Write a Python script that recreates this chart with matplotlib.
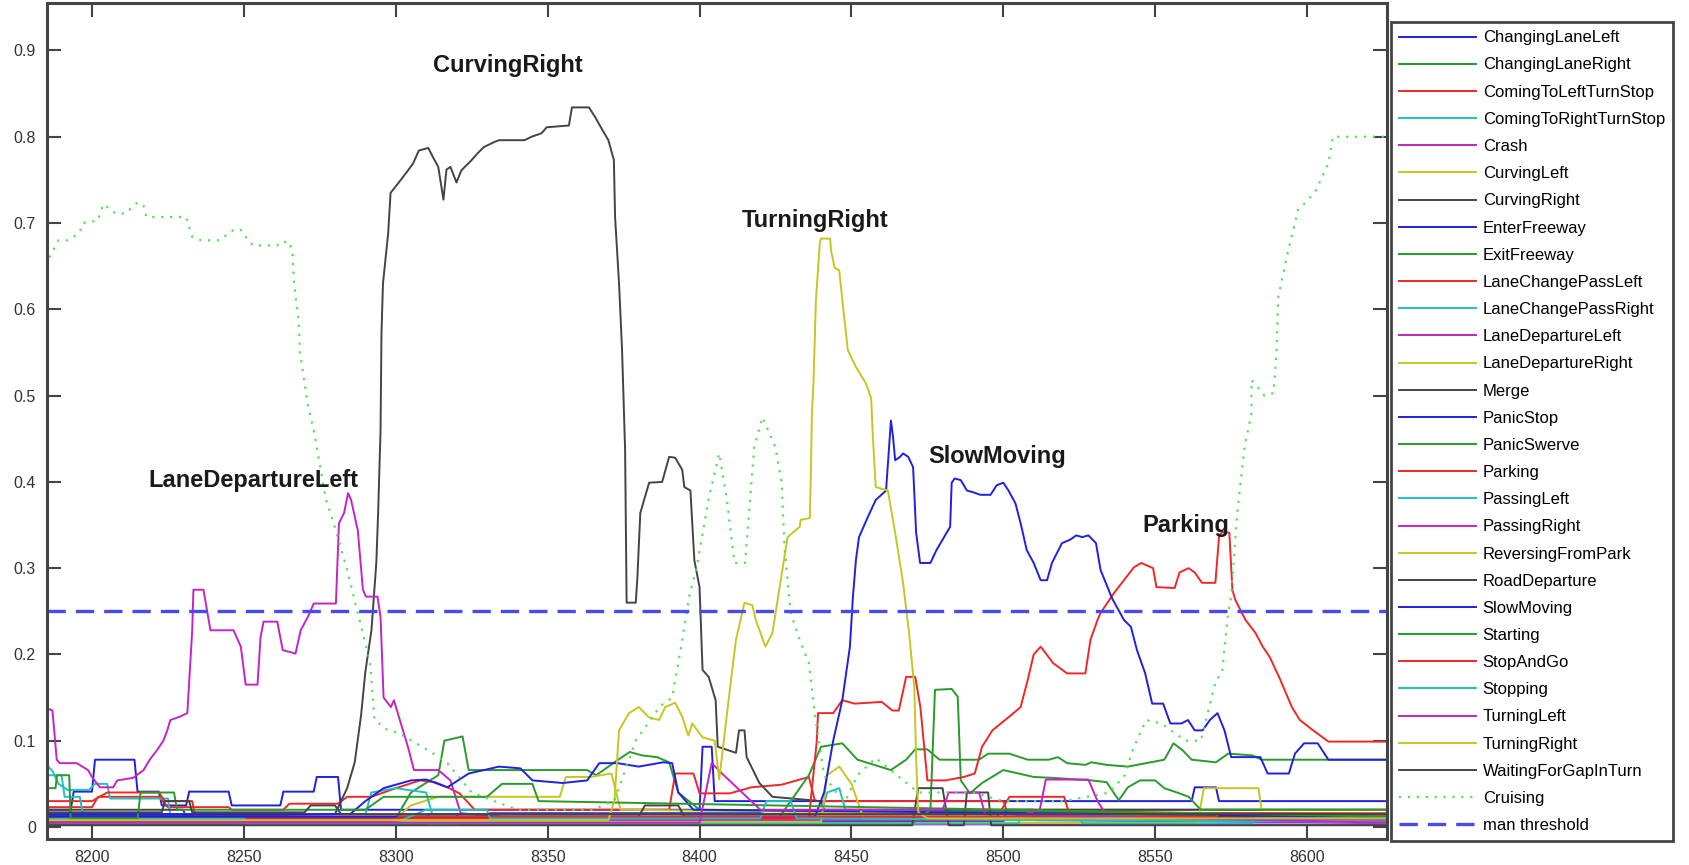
import matplotlib
matplotlib.use("Agg")
import matplotlib.pyplot as plt

plt.rcParams['font.family'] = ['Liberation Sans', 'DejaVu Sans']

# behaviour likelihoods as (frame, value) breakpoints
changing_lane_left = [(8185, 0.02), (8193, 0.02), (8194, 0.041), (8200, 0.041), (8201, 0.078), (8214, 0.078),
                      (8215, 0.041), (8222, 0.041), (8223, 0.025), (8231, 0.025), (8232, 0.041), (8245, 0.041),
                      (8246, 0.025), (8262, 0.025), (8263, 0.041), (8273, 0.041), (8274, 0.058), (8281, 0.058),
                      (8282, 0.02), (8400, 0.02), (8401, 0.093), (8404, 0.093), (8405, 0.03), (8562, 0.03),
                      (8563, 0.046), (8570, 0.046), (8571, 0.03), (8626, 0.03)]
changing_lane_right = [(8185, 0.01), (8300, 0.01), (8305, 0.04), (8314, 0.06), (8316, 0.10), (8322, 0.105),
                       (8324, 0.066), (8363, 0.066), (8366, 0.06), (8372, 0.075), (8377, 0.087), (8381, 0.083),
                       (8386, 0.081), (8390, 0.075), (8393, 0.04), (8400, 0.02), (8626, 0.015)]
coming_left_turn_stop = [(8185, 0.023), (8200, 0.023), (8202, 0.035), (8222, 0.035), (8225, 0.023), (8245, 0.023),
                         (8246, 0.02), (8263, 0.02), (8265, 0.027), (8281, 0.027), (8284, 0.035), (8292, 0.035),
                         (8300, 0.045), (8308, 0.054), (8313, 0.052), (8317, 0.046), (8321, 0.039), (8326, 0.02),
                         (8390, 0.02), (8392, 0.062), (8398, 0.062), (8400, 0.039), (8410, 0.039), (8417, 0.046),
                         (8427, 0.049), (8432, 0.054), (8436, 0.058), (8438, 0.03), (8500, 0.03), (8501, 0.02),
                         (8626, 0.02)]
coming_right_turn_stop = [(8185, 0.072), (8187, 0.065), (8189, 0.05), (8192, 0.043), (8199, 0.043), (8201, 0.05),
                          (8205, 0.05), (8206, 0.033), (8225, 0.033), (8226, 0.008), (8626, 0.008)]
crash = [(8185, 0.003), (8310, 0.003), (8311, 0.015), (8320, 0.015), (8321, 0.003), (8626, 0.003)]
curving_left = [(8185, 0.01), (8300, 0.01), (8305, 0.025), (8314, 0.035), (8354, 0.035), (8356, 0.058),
                (8364, 0.058), (8371, 0.062), (8374, 0.02), (8626, 0.01)]
curving_right = [(8185, 0.02), (8230, 0.02), (8231, 0.012), (8280, 0.015), (8284, 0.045), (8286.5, 0.075),
                 (8288.6, 0.13), (8290, 0.18), (8292, 0.228), (8293.6, 0.306), (8294.2, 0.364), (8295, 0.46),
                 (8295.3, 0.572), (8295.8, 0.63), (8297.5, 0.688), (8298.3, 0.735), (8301, 0.747),
                 (8303.4, 0.758), (8305.7, 0.769), (8307.6, 0.784), (8310.7, 0.787), (8312.3, 0.776),
                 (8314, 0.765), (8315.7, 0.727), (8316.7, 0.762), (8318, 0.765), (8320, 0.747), (8321.6, 0.761),
                 (8325, 0.773), (8327, 0.781), (8329, 0.788), (8332.5, 0.794), (8334, 0.796), (8342.4, 0.796),
                 (8344.7, 0.80), (8348, 0.804), (8349.7, 0.811), (8357, 0.813), (8358, 0.834), (8363.6, 0.834),
                 (8365.6, 0.823), (8368, 0.808), (8370, 0.796), (8371.8, 0.773), (8372.2, 0.707),
                 (8373.5, 0.63), (8374.5, 0.553), (8375.5, 0.437), (8376, 0.26), (8379, 0.26), (8379.5, 0.286),
                 (8380.5, 0.364), (8383.4, 0.399), (8387.7, 0.40), (8390, 0.429), (8392, 0.428),
                 (8394.3, 0.414), (8395, 0.394), (8397, 0.39), (8398.3, 0.309), (8400, 0.278), (8401, 0.182),
                 (8403, 0.174), (8405.3, 0.147), (8406, 0.093), (8412, 0.086), (8413, 0.112), (8414.8, 0.112),
                 (8415.5, 0.081), (8419.7, 0.051), (8424, 0.035), (8440, 0.03), (8441, 0.02), (8626, 0.02)]
enter_freeway = [(8185, 0.014), (8240, 0.014), (8241, 0.008), (8330, 0.008), (8331, 0.016), (8420, 0.016),
                 (8421, 0.006), (8500, 0.006), (8501, 0.02), (8510, 0.02), (8511, 0.008), (8626, 0.005)]
exit_freeway = [(8185, 0.005), (8425, 0.005), (8430, 0.03), (8436, 0.06), (8440, 0.093), (8447, 0.097),
                (8452, 0.078), (8463, 0.066), (8468, 0.078), (8471, 0.09), (8475, 0.09), (8479, 0.078),
                (8492, 0.078), (8495, 0.085), (8502, 0.085), (8508, 0.078), (8515, 0.078), (8518, 0.081),
                (8521, 0.074), (8527, 0.072), (8529, 0.075), (8534, 0.072), (8541, 0.07), (8553, 0.078),
                (8556, 0.097), (8559, 0.089), (8562, 0.078), (8570, 0.075), (8574, 0.085), (8582, 0.083),
                (8585, 0.078), (8626, 0.078)]
lane_change_pass_left = [(8185, 0.03), (8200, 0.03), (8205, 0.04), (8222, 0.04), (8224, 0.03), (8233, 0.03),
                         (8234, 0.012), (8498, 0.012), (8502, 0.035), (8520, 0.035), (8522, 0.012), (8626, 0.012)]
lane_change_pass_right = [(8185, 0.06), (8190, 0.06), (8191, 0.035), (8196, 0.035), (8197, 0.015), (8290, 0.015),
                          (8292, 0.04), (8300, 0.045), (8310, 0.04), (8312, 0.015), (8440, 0.015), (8442, 0.04),
                          (8446, 0.045), (8448, 0.02), (8626, 0.005)]
lane_departure_left = [(8185, 0.138), (8187, 0.135), (8188.4, 0.078), (8189.4, 0.074), (8195, 0.074),
                       (8198.7, 0.066), (8200, 0.058), (8202.6, 0.046), (8207, 0.046), (8208.3, 0.054),
                       (8213.6, 0.057), (8217, 0.066), (8219, 0.078), (8221.4, 0.089), (8223.5, 0.10),
                       (8224.8, 0.112), (8225.8, 0.124), (8229, 0.128), (8231.4, 0.132), (8233, 0.228),
                       (8233.4, 0.275), (8236.7, 0.275), (8239, 0.228), (8246.6, 0.228), (8249, 0.209),
                       (8250.6, 0.165), (8254.5, 0.165), (8255.5, 0.22), (8256.5, 0.238), (8261, 0.238),
                       (8262.8, 0.205), (8267, 0.201), (8268.7, 0.228), (8271, 0.243), (8273, 0.259),
                       (8280.3, 0.259), (8281.3, 0.352), (8283, 0.364), (8284.3, 0.387), (8285.3, 0.379),
                       (8287.5, 0.344), (8289.2, 0.275), (8290.2, 0.267), (8294, 0.267), (8295, 0.243),
                       (8296, 0.15), (8298.4, 0.139), (8299.4, 0.147), (8301, 0.128), (8304, 0.093),
                       (8306, 0.066), (8314, 0.066), (8318, 0.054), (8321.4, 0.016), (8340, 0.01), (8626, 0.01)]
lane_departure_right = [(8185, 0.005), (8564, 0.005), (8566, 0.045), (8584, 0.045), (8585, 0.02), (8626, 0.02)]
merge = [(8185, 0.012), (8380, 0.012), (8382, 0.025), (8393, 0.025), (8395, 0.012), (8626, 0.012)]
panic_stop = [(8185, 0.015), (8285, 0.015), (8290, 0.03), (8296, 0.045), (8305, 0.054), (8310, 0.055),
              (8317, 0.046), (8324, 0.062), (8334, 0.07), (8341, 0.068), (8345, 0.054), (8355, 0.051),
              (8363, 0.054), (8367, 0.074), (8373, 0.074), (8380, 0.07), (8388, 0.075), (8391, 0.074),
              (8393, 0.04), (8398, 0.02), (8626, 0.012)]
panic_swerve = [(8185, 0.004), (8470, 0.004), (8476, 0.02), (8477.5, 0.159), (8483, 0.16), (8485, 0.151),
                (8486, 0.054), (8489, 0.039), (8493, 0.051), (8500, 0.066), (8505, 0.062), (8510, 0.058),
                (8516, 0.057), (8529, 0.054), (8534, 0.052), (8538, 0.031), (8541, 0.046), (8545, 0.054),
                (8550, 0.054), (8553, 0.045), (8558, 0.039), (8561, 0.035), (8565, 0.02), (8626, 0.02)]
parking = [(8185, 0.01), (8436, 0.01), (8438.6, 0.10), (8439, 0.132), (8444, 0.132), (8447, 0.147),
           (8451, 0.143), (8460, 0.145), (8463.5, 0.135), (8465.6, 0.135), (8468, 0.174), (8471, 0.174),
           (8472.7, 0.139), (8475, 0.054), (8481, 0.054), (8487, 0.058), (8490.6, 0.062), (8493, 0.093),
           (8496.4, 0.112), (8502, 0.128), (8505.7, 0.139), (8508, 0.17), (8510, 0.20), (8512.3, 0.209),
           (8516.4, 0.19), (8521, 0.178), (8527, 0.178), (8528.7, 0.217), (8531, 0.24), (8532, 0.248),
           (8536.4, 0.271), (8539.7, 0.286), (8543, 0.301), (8545.4, 0.306), (8549.3, 0.30), (8550.4, 0.278),
           (8556.4, 0.277), (8558, 0.295), (8561, 0.30), (8563, 0.295), (8565.4, 0.283), (8569.8, 0.283),
           (8571, 0.336), (8572, 0.342), (8574.4, 0.341), (8575.4, 0.275), (8576.4, 0.263), (8579.7, 0.24),
           (8583, 0.225), (8585.4, 0.209), (8587.7, 0.197), (8591, 0.172), (8595, 0.139), (8597.6, 0.124),
           (8602, 0.112), (8607, 0.099), (8626, 0.099)]
passing_left = [(8185, 0.01), (8250, 0.01), (8251, 0.004), (8505, 0.004), (8506, 0.015), (8525, 0.015),
                (8526, 0.004), (8582, 0.004), (8583, 0.01), (8626, 0.01)]
passing_right = [(8185, 0.008), (8500, 0.008), (8512, 0.02), (8514, 0.055), (8528, 0.055), (8531, 0.03),
                 (8535, 0.008), (8626, 0.008)]
reversing_from_park = [(8185, 0.006), (8440, 0.006), (8442, 0.06), (8446, 0.07), (8450, 0.05), (8454, 0.01),
                       (8626, 0.006)]
road_departure = [(8185, 0.002), (8470, 0.002), (8472, 0.045), (8480, 0.045), (8482, 0.002), (8487, 0.002),
                  (8488, 0.04), (8495, 0.04), (8496, 0.002), (8626, 0.002)]
slow_moving = [(8185, 0.012), (8438, 0.012), (8441, 0.04), (8444, 0.10), (8447, 0.147), (8449.5, 0.209),
               (8450.5, 0.267), (8451.5, 0.31), (8452.5, 0.336), (8455.5, 0.36), (8458, 0.379), (8461.4, 0.39),
               (8463, 0.471), (8463.7, 0.452), (8464.4, 0.425), (8466, 0.429), (8467, 0.433), (8468.7, 0.429),
               (8470.3, 0.417), (8471.3, 0.341), (8472.6, 0.306), (8476, 0.306), (8478, 0.321), (8480, 0.333),
               (8482.5, 0.348), (8483, 0.399), (8484, 0.404), (8486, 0.402), (8488, 0.39), (8490, 0.388),
               (8492.5, 0.385), (8495.8, 0.385), (8497.8, 0.396), (8500, 0.399), (8501.7, 0.39), (8504, 0.375),
               (8505.7, 0.352), (8507.7, 0.321), (8510, 0.306), (8512.3, 0.286), (8514.4, 0.286), (8516, 0.306),
               (8519.3, 0.329), (8522, 0.333), (8524, 0.338), (8526, 0.336), (8528, 0.338), (8530.5, 0.329),
               (8532, 0.298), (8535.8, 0.265), (8539.7, 0.24), (8542, 0.232), (8544, 0.205), (8546.7, 0.178),
               (8549, 0.143), (8552.6, 0.143), (8555, 0.12), (8558.6, 0.12), (8560.8, 0.124), (8563, 0.112),
               (8565.6, 0.112), (8568, 0.124), (8570.5, 0.132), (8572.8, 0.112), (8575, 0.081), (8584.6, 0.081),
               (8587, 0.062), (8594, 0.062), (8596, 0.085), (8599, 0.097), (8603.5, 0.097), (8607, 0.078),
               (8626, 0.078)]
starting = [(8185, 0.045), (8188, 0.045), (8188.5, 0.06), (8192.5, 0.06), (8193, 0.01), (8215, 0.01),
            (8216, 0.04), (8227, 0.04), (8228, 0.02), (8290, 0.02), (8296, 0.035), (8330, 0.035), (8335, 0.05),
            (8345, 0.05), (8347, 0.03), (8626, 0.012)]
stop_and_go = [(8185, 0.006), (8300, 0.006), (8301, 0.012), (8570, 0.012), (8571, 0.016), (8626, 0.016)]
stopping = [(8185, 0.005), (8300, 0.005), (8310, 0.02), (8330, 0.02), (8331, 0.01), (8420, 0.01), (8422, 0.03),
            (8430, 0.03), (8432, 0.01), (8626, 0.006)]
turning_left = [(8185, 0.005), (8400, 0.005), (8404, 0.074), (8408, 0.06), (8414, 0.04), (8420, 0.02),
                (8480, 0.02), (8482, 0.04), (8492, 0.04), (8494, 0.015), (8626, 0.005)]
turning_right = [(8185, 0.008), (8370, 0.008), (8372, 0.031), (8373.5, 0.112), (8376.8, 0.132), (8380, 0.139),
                 (8383.4, 0.127), (8386.7, 0.124), (8388.7, 0.139), (8392, 0.144), (8394.3, 0.128),
                 (8396.3, 0.106), (8397.6, 0.12), (8401, 0.104), (8405, 0.10), (8406.5, 0.055), (8408, 0.10),
                 (8410, 0.16), (8412, 0.217), (8414.8, 0.26), (8417.4, 0.257), (8418.5, 0.24), (8421.7, 0.209),
                 (8424, 0.225), (8427.4, 0.301), (8429, 0.336), (8433, 0.348), (8433.3, 0.356), (8436.3, 0.358),
                 (8436.6, 0.402), (8437, 0.48), (8437.5, 0.514), (8438.3, 0.61), (8439.6, 0.677), (8440, 0.682),
                 (8443, 0.682), (8443.3, 0.668), (8444.5, 0.648), (8446, 0.645), (8447, 0.611), (8448.8, 0.553),
                 (8451.5, 0.533), (8454.8, 0.514), (8456.5, 0.497), (8457, 0.457), (8458, 0.394), (8462, 0.39),
                 (8464.4, 0.341), (8467, 0.283), (8469, 0.224), (8470.7, 0.162), (8471.3, 0.079), (8472, 0.017),
                 (8475, 0.01), (8626, 0.01)]
waiting_for_gap = [(8185, 0.017), (8223, 0.017), (8224, 0.03), (8232, 0.03), (8233, 0.017), (8270, 0.017),
                   (8272, 0.025), (8280, 0.025), (8282, 0.015), (8626, 0.015)]
cruising = [(8186, 0.66), (8189, 0.68), (8192, 0.68), (8194, 0.684), (8196, 0.69), (8197, 0.70), (8202, 0.703),
            (8203, 0.715), (8204, 0.722), (8206, 0.715), (8208, 0.711), (8211, 0.711), (8215, 0.724),
            (8217, 0.72), (8218, 0.707), (8231, 0.707), (8232, 0.695), (8233, 0.684), (8236, 0.68), (8242, 0.68),
            (8245, 0.688), (8247, 0.693), (8249, 0.692), (8251, 0.682), (8253, 0.674), (8261, 0.674),
            (8262, 0.678), (8265, 0.678), (8266, 0.665), (8266.5, 0.63), (8268, 0.588), (8268.5, 0.549),
            (8270, 0.514), (8271, 0.491), (8273, 0.46), (8277, 0.38), (8279.6, 0.352), (8284, 0.298),
            (8291.6, 0.19), (8293, 0.124), (8297.5, 0.112), (8301, 0.109), (8312, 0.086), (8317, 0.074),
            (8325, 0.04), (8340, 0.02), (8365, 0.02), (8372, 0.031), (8379, 0.10), (8387, 0.14), (8391, 0.15),
            (8394, 0.21), (8396.6, 0.267), (8399, 0.30), (8403, 0.38), (8406.5, 0.433), (8409, 0.38),
            (8411.5, 0.306), (8415, 0.306), (8418, 0.44), (8420.7, 0.475), (8425, 0.44), (8427, 0.40),
            (8428, 0.324), (8430, 0.248), (8433, 0.217), (8436, 0.19), (8438, 0.13), (8441, 0.06), (8445, 0.04),
            (8448, 0.03), (8452, 0.06), (8458, 0.08), (8465, 0.06), (8472, 0.04), (8490, 0.04), (8500, 0.03),
            (8520, 0.03), (8535, 0.04), (8540, 0.06), (8543, 0.093), (8547, 0.124), (8552, 0.12), (8560, 0.10),
            (8565, 0.10), (8570, 0.17), (8572, 0.178), (8574, 0.248), (8575, 0.267), (8577, 0.364),
            (8579.4, 0.44), (8581.7, 0.48), (8581.7, 0.518), (8586, 0.50), (8589, 0.503), (8590, 0.556),
            (8590.5, 0.614), (8593.6, 0.665), (8597, 0.715), (8602.5, 0.735), (8607, 0.769), (8608.5, 0.80),
            (8626, 0.80)]
man_threshold = 0.25

behaviours = ["ChangingLaneLeft", "ChangingLaneRight", "ComingToLeftTurnStop", "ComingToRightTurnStop", "Crash",
              "CurvingLeft", "CurvingRight", "EnterFreeway", "ExitFreeway", "LaneChangePassLeft",
              "LaneChangePassRight", "LaneDepartureLeft", "LaneDepartureRight", "Merge", "PanicStop",
              "PanicSwerve", "Parking", "PassingLeft", "PassingRight", "ReversingFromPark", "RoadDeparture",
              "SlowMoving", "Starting", "StopAndGo", "Stopping", "TurningLeft", "TurningRight",
              "WaitingForGapInTurn"]
series = [changing_lane_left, changing_lane_right, coming_left_turn_stop, coming_right_turn_stop, crash,
          curving_left, curving_right, enter_freeway, exit_freeway, lane_change_pass_left, lane_change_pass_right,
          lane_departure_left, lane_departure_right, merge, panic_stop, panic_swerve, parking, passing_left,
          passing_right, reversing_from_park, road_departure, slow_moving, starting, stop_and_go, stopping,
          turning_left, turning_right, waiting_for_gap]

x_ticks = [8200, 8250, 8300, 8350, 8400, 8450, 8500, 8550, 8600]
y_ticks = [0, 0.1, 0.2, 0.3, 0.4, 0.5, 0.6, 0.7, 0.8, 0.9]
y_tick_labels = ["0", "0.1", "0.2", "0.3", "0.4", "0.5", "0.6", "0.7", "0.8", "0.9"]

peak_labels = ["LaneDepartureLeft", "CurvingRight", "TurningRight", "SlowMoving", "Parking"]
peak_x = [8253, 8337, 8438, 8498, 8560]
peak_y = [0.402, 0.883, 0.703, 0.429, 0.35]

# matlab style colour cycle
cycle = ['#2020e0', '#2a9a2a', '#ee2828', '#22bfbf', '#c424c4', '#c6c622', '#444444']

fig = plt.figure(figsize=(16.9, 8.65), dpi=100)
ax = fig.add_axes([47 / 1690, 26 / 865, 1340 / 1690, 836 / 865])

handles = []
for i, s in enumerate(series):
    xs = [p[0] for p in s]
    ys = [p[1] for p in s]
    ln, = ax.plot(xs, ys, color=cycle[i % 7], lw=1.4)
    handles.append(ln)

cx = [p[0] for p in cruising]
cy = [p[1] for p in cruising]
ln, = ax.plot(cx, cy, color='#55e055', lw=1.6, linestyle=(0, (1, 3)))
handles.append(ln)
ln = ax.axhline(man_threshold, color='#4a4af5', lw=2.4, dashes=(5.5, 3))
handles.append(ln)

for t, x, y in zip(peak_labels, peak_x, peak_y):
    ax.text(x, y, t, ha='center', va='center', fontsize=17, fontweight='bold', color='#1a1a1a')

ax.set_xlim(8185.2, 8626.3)
ax.set_ylim(-0.0139, 0.955)
ax.set_xticks(x_ticks)
ax.set_xticklabels([str(v) for v in x_ticks])
ax.set_yticks(y_ticks)
ax.set_yticklabels(y_tick_labels)
ax.tick_params(direction='in', length=10, width=1.5, top=True, right=True, color='#444444',
               labelsize=11.5, labelcolor='#333333', pad=8)
for sp in ax.spines.values():
    sp.set_linewidth(2.2)
    sp.set_color('#444444')

leg = fig.legend(handles, behaviours + ["Cruising", "man threshold"], loc='upper left',
                 bbox_to_anchor=(1391 / 1690, 1 - 22 / 865), borderaxespad=0, fontsize=12,
                 handlelength=4.6, handletextpad=0.4, labelspacing=0.73, borderpad=0.5,
                 fancybox=False, framealpha=1)
leg.get_frame().set_edgecolor('#444444')
leg.get_frame().set_linewidth(2)

fig.savefig("out.png", dpi=100)
